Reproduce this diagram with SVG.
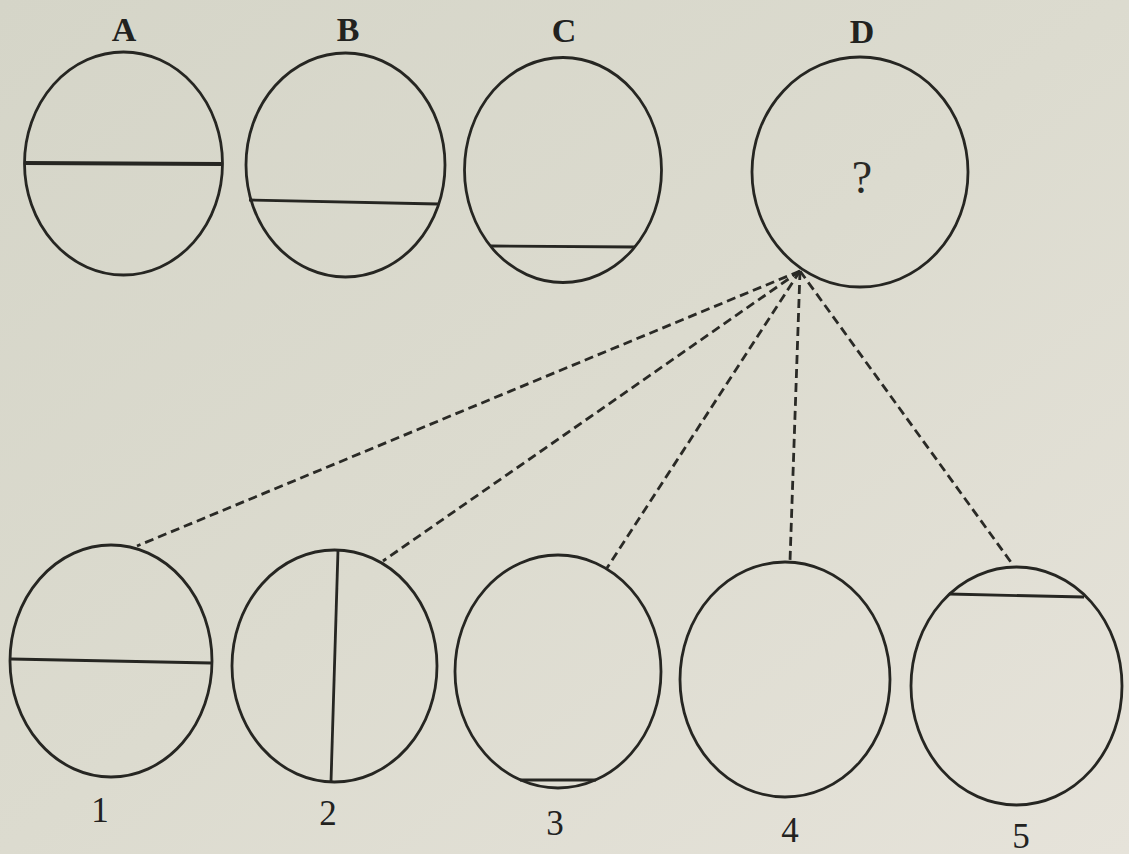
<svg xmlns="http://www.w3.org/2000/svg" width="1129" height="854" viewBox="0 0 1129 854">
<defs>
<linearGradient id="bg" x1="0" y1="0" x2="1" y2="1">
<stop offset="0" stop-color="#d5d5c8"/>
<stop offset="0.5" stop-color="#dcdbcf"/>
<stop offset="1" stop-color="#e6e3da"/>
</linearGradient>
<style>
.shape{fill:none;stroke:#262622;stroke-width:2.8}
.chord{fill:none;stroke:#262622;stroke-width:2.8}
.thick{stroke-width:4.2}
.dash{fill:none;stroke:#2a2a26;stroke-width:2.8;stroke-dasharray:9 5}
.lbl{font-family:"Liberation Serif","Times New Roman",serif;font-size:34px;font-weight:bold;fill:#22221f;text-anchor:middle}
.num{font-family:"Liberation Serif","Times New Roman",serif;font-size:35px;fill:#22221f;text-anchor:middle}
.q{font-family:"Liberation Serif","Times New Roman",serif;font-size:46px;fill:#2a2a26;text-anchor:middle}
</style>
</defs>
<rect width="1129" height="854" fill="url(#bg)"/>
<g id="connectors">
<line class="dash" x1="800" y1="271" x2="137" y2="546"/>
<line class="dash" x1="800" y1="271" x2="383" y2="561"/>
<line class="dash" x1="800" y1="271" x2="607" y2="568"/>
<line class="dash" x1="800" y1="271" x2="790" y2="561"/>
<line class="dash" x1="800" y1="271" x2="1013" y2="565"/>
</g>
<g id="nodeA">
<text class="lbl" x="124" y="41">A</text>
<ellipse class="shape" cx="123.5" cy="163.5" rx="99" ry="111.5"/>
<line class="chord thick" x1="25" y1="163" x2="222" y2="164"/>
</g>
<g id="nodeB">
<text class="lbl" x="348" y="41">B</text>
<ellipse class="shape" cx="345.5" cy="165" rx="99.5" ry="112"/>
<line class="chord" x1="249" y1="200" x2="438" y2="204"/>
</g>
<g id="nodeC">
<text class="lbl" x="564" y="42">C</text>
<ellipse class="shape" cx="563" cy="170" rx="98.5" ry="112.5"/>
<line class="chord" x1="491" y1="246" x2="635" y2="247"/>
</g>
<g id="nodeD">
<text class="lbl" x="862" y="43">D</text>
<ellipse class="shape" cx="860" cy="172" rx="108" ry="115"/>
<text class="q" x="862" y="193">?</text>
</g>
<g id="node1">
<ellipse class="shape" cx="111" cy="661" rx="101" ry="116"/>
<line class="chord" x1="11" y1="659" x2="211" y2="663"/>
<text class="num" x="100" y="822">1</text>
</g>
<g id="node2">
<ellipse class="shape" cx="334.5" cy="666" rx="102.5" ry="116"/>
<line class="chord" x1="338" y1="550" x2="331" y2="782"/>
<text class="num" x="328" y="825">2</text>
</g>
<g id="node3">
<ellipse class="shape" cx="558" cy="671.5" rx="103" ry="116.5"/>
<line class="chord" x1="520" y1="780" x2="596" y2="780"/>
<text class="num" x="555" y="835">3</text>
</g>
<g id="node4">
<ellipse class="shape" cx="785" cy="679.5" rx="105" ry="117.5"/>
<text class="num" x="790" y="842">4</text>
</g>
<g id="node5">
<ellipse class="shape" cx="1016.5" cy="686" rx="105.5" ry="119"/>
<line class="chord" x1="949" y1="594" x2="1084" y2="597" stroke-width="3.4"/>
<text class="num" x="1021" y="848">5</text>
</g>
</svg>
